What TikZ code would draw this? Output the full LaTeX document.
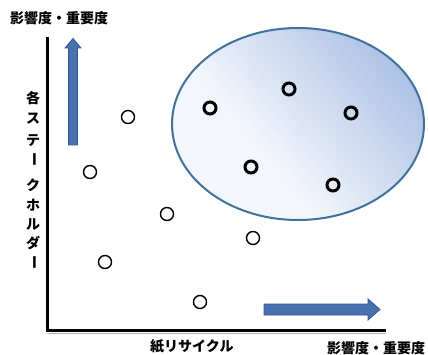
\documentclass[tikz,border=0pt]{standalone}
\usepackage{fontspec}
\newfontfamily\jp{Noto Sans CJK JP}
\usetikzlibrary{shadings}
\definecolor{ellborder}{HTML}{41719C}
\definecolor{elldark}{HTML}{ACC1E5}
\definecolor{elllight}{HTML}{F3F6FC}
\definecolor{arrfill}{HTML}{4A70AD}
\definecolor{arrdraw}{HTML}{2F5597}
\pgfdeclarehorizontalshading{ellshade}{100bp}{color(0bp)=(elllight); color(40bp)=(elllight); color(76bp)=(elldark); color(100bp)=(elldark)}
\tikzset{
  lbl/.style={font=\jp\bfseries\fontsize{14}{14}\selectfont, inner sep=0pt, text=black},
  vch/.style={font=\jp\bfseries\fontsize{14}{14}\selectfont, inner sep=0pt, text=black},
  pt/.style={circle, draw=black, line width=1.4pt, minimum size=13pt, inner sep=0pt},
  bpt/.style={circle, draw=black, line width=3pt, minimum size=12pt, inner sep=0pt},
  axisline/.style={line width=3pt, draw=black},
  bigarrow/.style={fill=arrfill, draw=arrdraw, line width=0.8pt, line join=miter},
}
\begin{document}
\begin{tikzpicture}[x=1pt,y=-1pt]
\useasboundingbox (0,0) rectangle (428,355);
% ellipse
\shade[shading=ellshade, shading angle=40]
  (298,124) ellipse [x radius=126, y radius=96];
\draw[ellborder, line width=2pt] (298,124) ellipse [x radius=126, y radius=96];
% axes
\coordinate (origin) at (47.5,330.5);
\coordinate (ytop) at (47.5,37);
\coordinate (xend) at (386,330.5);
\draw[gray!60, line width=1pt] (47,333) -- (386,333);
\draw[axisline] (ytop) -- (origin) -- (xend);
% arrows
\draw[bigarrow] (68.5,145) -- (68.5,48) -- (65,48) -- (73,38.5) -- (81,48) -- (77.5,48) -- (77.5,145) -- cycle;
\draw[bigarrow] (264,304) -- (368,304) -- (368,299) -- (380,309.5) -- (368,320) -- (368,315) -- (264,315) -- cycle;
% labels
\node[lbl, anchor=west] (ytitle) at (10,18) {影響度・重要度};
\node[lbl, anchor=west] (xtitle) at (150,346) {紙リサイクル};
\node[lbl, anchor=west] (xtitle2) at (327,348) {影響度・重要度};
\node[vch] (v1) at (33,98) {各};
\node[vch] (v2) at (33,119) {ス};
\node[vch] (v3) at (33,141) {テ};
\node[vch, rotate=-90] (v4) at (33,160) {ー};
\node[vch] (v5) at (33,185) {ク};
\node[vch] (v6) at (33,205) {ホ};
\node[vch] (v7) at (33,225) {ル};
\node[vch] (v8) at (33,243) {ダ};
\node[vch, rotate=-90] (v9) at (33,262) {ー};
% bold points
\node[bpt] (b1) at (210,108) {};
\node[bpt] (b2) at (289,89) {};
\node[bpt] (b3) at (351,113) {};
\node[bpt] (b4) at (251,167) {};
\node[bpt] (b5) at (333,185) {};
% plain points
\node[pt] (p1) at (128,117) {};
\node[pt] (p2) at (90,172) {};
\node[pt] (p3) at (167,214) {};
\node[pt] (p4) at (105,262) {};
\node[pt] (p5) at (253,238) {};
\node[pt] (p6) at (200,302) {};
\end{tikzpicture}
\end{document}
